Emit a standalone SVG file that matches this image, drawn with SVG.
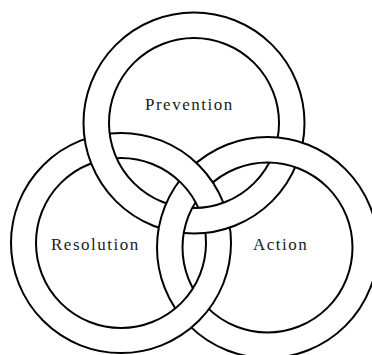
<svg xmlns="http://www.w3.org/2000/svg" width="372" height="355" viewBox="0 0 372 355">
<style>
.ring{fill:#fff;fill-rule:evenodd;stroke:#000;stroke-width:2}
.lbl{font-family:"Liberation Serif","Times New Roman",serif;font-size:17px;letter-spacing:1.5px;fill:#1a1a1a}
</style>
<defs>
<path id="ringTop" d="M83.5,123 a110.5,110.5 0 1,0 221,0 a110.5,110.5 0 1,0 -221,0 Z M109,123 a85,85 0 1,0 170,0 a85,85 0 1,0 -170,0 Z"/>
<path id="ringLeft" d="M11,243 a110,110 0 1,0 220,0 a110,110 0 1,0 -220,0 Z M36,243 a85,85 0 1,0 170,0 a85,85 0 1,0 -170,0 Z"/>
<path id="ringRight" d="M157,247.5 a110.5,110.5 0 1,0 221,0 a110.5,110.5 0 1,0 -221,0 Z M182.5,247.5 a85,85 0 1,0 170,0 a85,85 0 1,0 -170,0 Z"/>
<clipPath id="clipRightBand"><path clip-rule="evenodd" d="M155,247.5 a112.5,112.5 0 1,0 225,0 a112.5,112.5 0 1,0 -225,0 Z M184.5,247.5 a83,83 0 1,0 166,0 a83,83 0 1,0 -166,0 Z"/></clipPath>
</defs>
<rect width="372" height="355" fill="#fff"/>
<g id="resolution">
<use href="#ringLeft" class="ring"/>
<text class="lbl" x="51" y="249.5">Resolution</text>
</g>
<g id="prevention">
<use href="#ringTop" class="ring"/>
<text class="lbl" x="145" y="110">Prevention</text>
</g>
<g id="action">
<use href="#ringRight" class="ring"/>
<text class="lbl" x="253" y="250">Action</text>
</g>
<g id="resolution-over-action" clip-path="url(#clipRightBand)">
<use href="#ringLeft" class="ring"/>
</g>
<g id="connectors"/>
</svg>
